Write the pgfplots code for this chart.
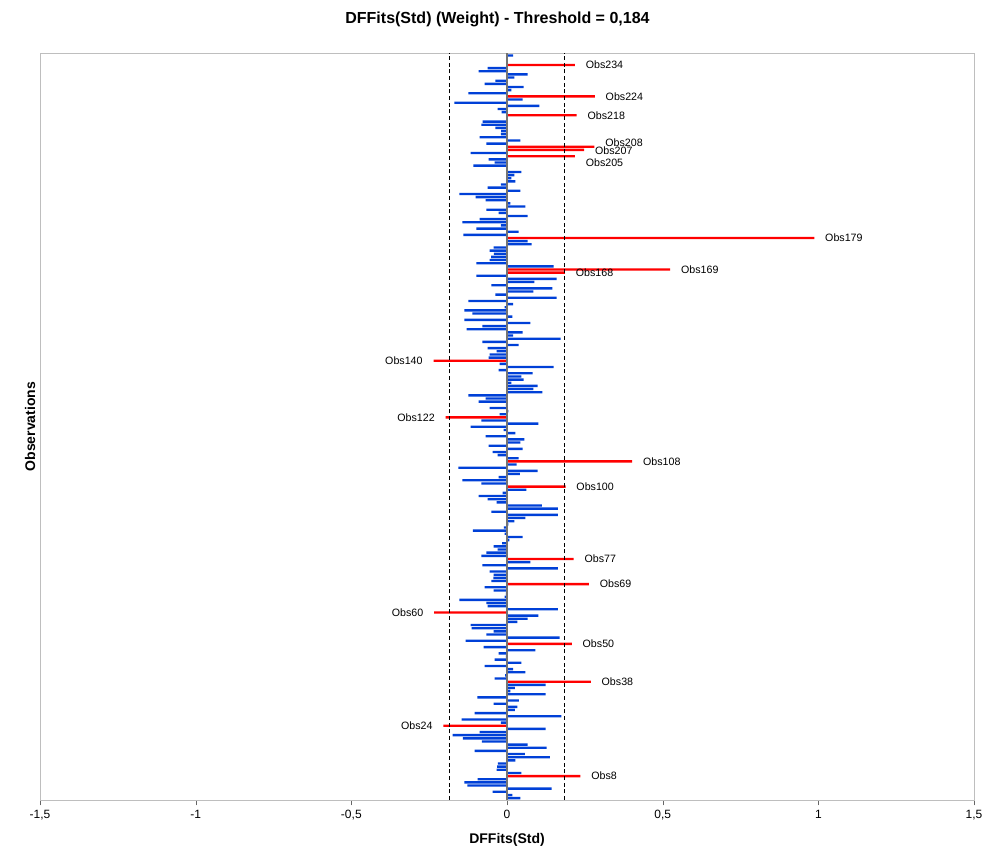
\documentclass[border=0pt]{standalone}
\usepackage{pgfplots}
\pgfplotsset{compat=1.18}
\usepackage{pgfplotstable}
\usepackage{fontspec}
\setmainfont{Liberation Sans}
\usetikzlibrary{calc}
\definecolor{barblue}{RGB}{0,64,215}
\definecolor{axgray}{RGB}{190,190,190}

\pgfplotstableread{
k v
1 0.043
2 0.017
3 -0.046
4 0.143
5 -0.127
6 -0.137
7 -0.094
9 0.046
10 -0.033
11 -0.032
12 -0.029
13 0.027
14 0.138
15 0.057
16 -0.104
17 0.127
18 0.066
19 -0.081
20 -0.142
21 -0.175
22 -0.088
23 0.124
25 -0.020
26 -0.146
27 0.175
28 -0.104
29 0.025
30 0.033
31 -0.043
32 0.038
33 -0.095
34 0.124
35 0.011
36 0.025
37 0.124
39 -0.040
40 -0.006
41 0.059
42 0.020
43 -0.072
44 0.046
45 -0.040
46 -0.004
47 -0.027
48 0.091
49 -0.075
51 -0.133
52 0.169
53 -0.066
54 -0.043
55 -0.114
56 -0.117
57 0.033
58 0.066
59 0.101
61 0.163
62 -0.062
63 -0.066
64 -0.153
65 -0.008
66 -0.004
67 -0.043
68 -0.072
70 -0.050
71 -0.044
72 -0.043
73 -0.056
74 0.163
75 -0.079
76 0.075
78 -0.082
79 -0.066
80 -0.030
81 -0.043
82 -0.016
83 0.008
84 0.050
85 -0.008
86 -0.110
87 -0.010
88 0.004
89 0.024
90 0.059
91 0.163
92 -0.050
93 0.163
94 0.112
95 -0.033
96 -0.062
97 -0.091
98 -0.014
99 0.062
101 -0.082
102 -0.143
103 -0.027
104 0.041
105 0.098
106 -0.156
107 0.031
109 0.037
110 -0.030
111 -0.046
112 0.050
113 -0.059
114 0.043
115 0.056
116 -0.069
117 0.027
118 -0.011
119 -0.117
120 0.101
121 -0.082
123 -0.024
124 0.004
125 -0.056
126 -0.004
127 -0.091
128 -0.069
129 -0.124
130 0.114
131 0.085
132 0.098
133 0.014
134 0.053
135 0.046
136 0.082
137 -0.027
138 0.150
139 -0.024
141 -0.059
142 -0.056
143 -0.033
144 -0.062
145 0.037
146 -0.079
147 0.172
148 0.020
149 0.050
150 -0.130
151 -0.079
152 0.075
153 -0.137
154 0.017
155 -0.111
156 -0.137
157 -0.008
158 0.020
159 -0.124
160 0.159
161 -0.037
162 0.085
163 0.146
164 -0.050
165 0.088
166 0.159
167 -0.098
170 0.150
171 -0.098
172 -0.056
173 -0.051
174 -0.042
175 -0.056
176 -0.043
177 0.079
178 0.066
180 -0.140
181 0.037
182 -0.098
183 -0.020
184 -0.143
185 -0.088
186 0.066
187 -0.027
188 -0.066
189 0.059
190 0.011
191 -0.069
192 -0.101
193 -0.153
194 0.043
195 -0.062
196 -0.020
197 0.027
198 0.014
199 0.024
200 0.046
201 0.003
202 -0.108
203 -0.040
204 -0.059
206 -0.117
209 -0.066
210 0.043
211 -0.088
212 -0.020
213 -0.019
214 -0.037
215 -0.082
216 -0.078
217 0.003
219 -0.017
220 -0.030
221 0.104
222 -0.169
223 0.050
225 -0.124
226 0.014
227 0.053
228 -0.072
229 -0.037
230 0.024
231 0.066
232 -0.091
233 -0.062
235 -0.002
236 -0.003
237 0.020
}\bluedata

\pgfplotstableread{
k v
8 0.236
24 -0.204
38 0.269
50 0.208
60 -0.234
69 0.263
77 0.214
100 0.188
108 0.402
122 -0.197
140 -0.236
168 0.186
169 0.524
179 0.987
205 0.218
207 0.248
208 0.281
218 0.224
224 0.282
234 0.218
}\reddata

\begin{document}
\begin{tikzpicture}
\begin{axis}[
  scale only axis,
  width=700.5pt, height=560.25pt,
  xmin=-1.5, xmax=1.5,
  ymin=0.4, ymax=237.8,
  xtick={-1.5,-1,-0.5,0,0.5,1,1.5},
  xticklabels={{-1,5},{-1},{-0,5},{0},{0,5},{1},{1,5}},
  xticklabel style={font=\fontsize{9}{10}\selectfont},
  ytick=\empty,
  tick align=outside,
  xtick pos=bottom,
  major tick length=4pt,
  tick style={draw=black!60},
  axis line style={draw=axgray},
  clip=false,
]
\addplot[xbar, bar shift=0pt, bar width=0.75, fill=barblue, draw=none] table[x=v, y=k] {\bluedata};
\addplot[xbar, bar shift=0pt, bar width=0.75, fill=red, draw=none] table[x=v, y=k] {\reddata};
\addplot[black!55, line width=0.8pt] coordinates {(0,0.4) (0,237.8)};
\addplot[black, densely dashed, line width=0.5pt] coordinates {(-0.184,0.4) (-0.184,237.8)};
\addplot[black, densely dashed, line width=0.5pt] coordinates {(0.184,0.4) (0.184,237.8)};

\begin{scope}[every node/.style={font=\fontsize{8}{9}\selectfont, inner sep=0pt}]
\node[anchor=west, xshift=8pt] at (axis cs:0.236,8) {Obs8};
\node[anchor=east, xshift=-8pt] at (axis cs:-0.204,24) {Obs24};
\node[anchor=west, xshift=8pt] at (axis cs:0.269,38) {Obs38};
\node[anchor=west, xshift=8pt] at (axis cs:0.208,50) {Obs50};
\node[anchor=east, xshift=-8pt] at (axis cs:-0.234,60) {Obs60};
\node[anchor=west, xshift=8pt] at (axis cs:0.263,69) {Obs69};
\node[anchor=west, xshift=8pt] at (axis cs:0.214,77) {Obs77};
\node[anchor=west, xshift=8pt] at (axis cs:0.188,100) {Obs100};
\node[anchor=west, xshift=8pt] at (axis cs:0.402,108) {Obs108};
\node[anchor=east, xshift=-8pt] at (axis cs:-0.197,122) {Obs122};
\node[anchor=east, xshift=-8pt] at (axis cs:-0.236,140) {Obs140};
\node[anchor=west, xshift=8pt] at (axis cs:0.186,168) {Obs168};
\node[anchor=west, xshift=8pt] at (axis cs:0.524,169) {Obs169};
\node[anchor=west, xshift=8pt] at (axis cs:0.987,179) {Obs179};
\node[anchor=west, xshift=8pt, yshift=-4.5pt] at (axis cs:0.218,205) {Obs205};
\node[anchor=west, xshift=8pt, yshift=-0.5pt] at (axis cs:0.248,207) {Obs207};
\node[anchor=west, xshift=8pt, yshift=3pt] at (axis cs:0.281,208) {Obs208};
\node[anchor=west, xshift=8pt] at (axis cs:0.224,218) {Obs218};
\node[anchor=west, xshift=8pt] at (axis cs:0.282,224) {Obs224};
\node[anchor=west, xshift=8pt] at (axis cs:0.218,234) {Obs234};
\end{scope}
\end{axis}
\node[font=\bfseries\fontsize{12}{14}\selectfont] at ($(current axis.north west)+(343.1pt,25.5pt)$) {DFFits(Std) (Weight) - Threshold = 0,184};
\node[font=\bfseries\fontsize{10.5}{12}\selectfont] at ($(current axis.south west)+(350.25pt,-30pt)$) {DFFits(Std)};
\node[font=\bfseries\fontsize{10.5}{12}\selectfont, rotate=90] at ($(current axis.south west)+(-7.5pt,280pt)$) {Observations};
\pgfresetboundingbox
\path[use as bounding box] ($(current axis.south west)+(-30pt,-39.75pt)$) rectangle ($(current axis.north east)+(18.75pt,39.75pt)$);
\end{tikzpicture}
\end{document}
